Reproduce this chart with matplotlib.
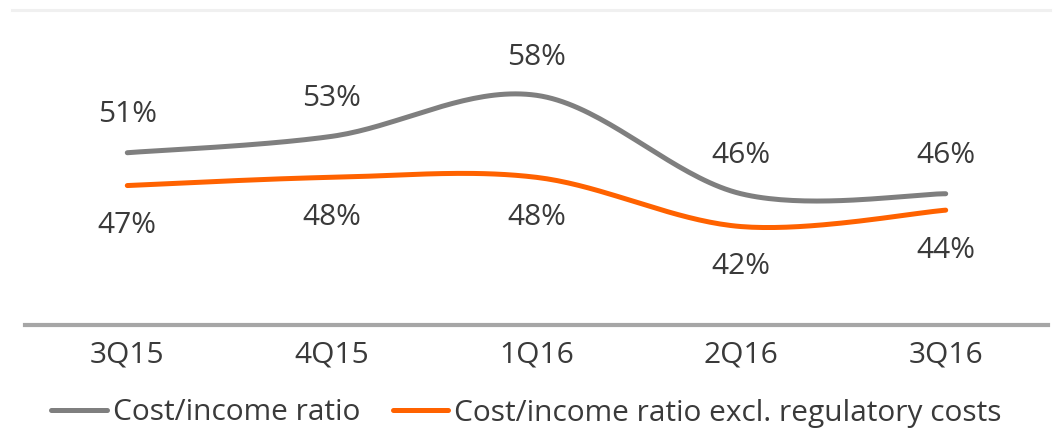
import numpy as np
import matplotlib
matplotlib.use("Agg")
import matplotlib.pyplot as plt

quarters = ["3Q15", "4Q15", "1Q16", "2Q16", "3Q16"]
cost_income = [51, 53, 58, 46, 46]
cost_income_excl = [47, 48, 48, 42, 44]

GRAY = "#7f7f7f"
ORANGE = "#ff6200"
TEXT = "#3a3a3a"

plt.rcParams["font.family"] = ["Open Sans", "DejaVu Sans"]


def smooth(x, y, n=40):
    # Excel-style smoothed line (Catmull-Rom through bezier control points)
    x = np.asarray(x, float)
    y = np.asarray(y, float)
    pts = np.column_stack([x, y])
    ext = np.vstack([pts[0], pts, pts[-1]])
    out = []
    t = np.linspace(0, 1, n)
    for i in range(len(pts) - 1):
        p0, p1, p2, p3 = ext[i], ext[i + 1], ext[i + 2], ext[i + 3]
        c1 = p1 + (p2 - p0) / 6
        c2 = p2 - (p3 - p1) / 6
        seg = ((1 - t) ** 3)[:, None] * p1 + (3 * (1 - t) ** 2 * t)[:, None] * c1 \
            + (3 * (1 - t) * t ** 2)[:, None] * c2 + (t ** 3)[:, None] * p2
        out.append(seg if i == 0 else seg[1:])
    s = np.vstack(out)
    return s[:, 0], s[:, 1]


fig = plt.figure(figsize=(10.53, 4.32), dpi=100)
ax = fig.add_axes([25 / 1053, 1 - 325 / 432, 1023 / 1053, 315 / 432])

FS = 21.5
x = np.arange(len(quarters))
for vals, col, lab, off in [(cost_income, GRAY, "Cost/income ratio", 27.5),
                            (cost_income_excl, ORANGE, "Cost/income ratio excl. regulatory costs", -29)]:
    sx, sy = smooth(x, vals)
    ax.plot(sx, sy, color=col, lw=3.6, solid_capstyle="round", label=lab)
    for xi, v in zip(x, vals):
        ax.annotate(f"{v}%", (xi, v), xytext=(0, off), textcoords="offset points",
                    ha="center", va="center", fontsize=FS, color=TEXT)

ax.set_xlim(-0.5, len(quarters) - 0.5)
ax.set_ylim(30, 68.4)
ax.set_yticks([])
for s in ["left", "right", "top"]:
    ax.spines[s].set_visible(False)
ax.spines["bottom"].set_color("#a6a6a6")
ax.spines["bottom"].set_linewidth(3)
ax.set_xticks(x)
ax.set_xticklabels(quarters, fontsize=FS, color=TEXT)
ax.tick_params(axis="x", length=0, pad=11)

# faint top gridline
fig.add_artist(plt.Line2D([12 / 1053, 1050 / 1053], [1 - 10 / 432, 1 - 10 / 432],
                          color="#f0f0f0", lw=2.2))

ax.legend(loc="center", bbox_to_anchor=(0.5, (432 - 413) / 432), bbox_transform=fig.transFigure,
          ncol=2, frameon=False, fontsize=FS, handlelength=1.85, handletextpad=0.2,
          columnspacing=1.1, labelcolor=TEXT, borderaxespad=0, borderpad=0)

fig.savefig("out.png", dpi=100)
